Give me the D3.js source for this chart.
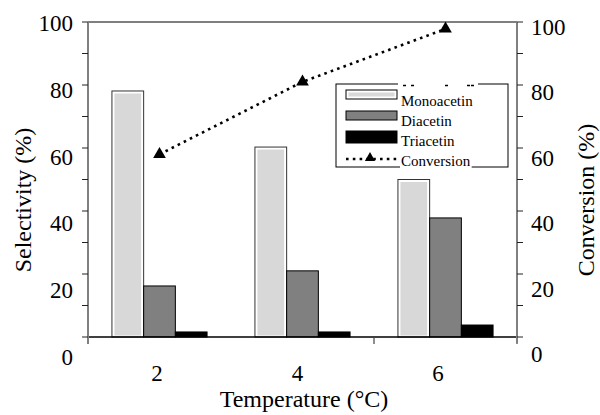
<!DOCTYPE html>
<html>
<head>
<meta charset="utf-8">
<script src="https://cdn.jsdelivr.net/npm/d3@7"></script>
<style>
  body { margin: 0; background: #fff; }
  svg { display: block; }
  text { font-family: "Liberation Serif", "Times New Roman", serif; fill: #000; }
</style>
</head>
<body>
<svg id="chart" width="600" height="415"></svg>
<script>
// ---- data ----
const temperatures = ["2", "4", "6"];
const seriesNames = ["Monoacetin", "Diacetin", "Triacetin"];
const monoacetin = [78.1, 60.3, 50.0];
const diacetin = [16.2, 21.0, 37.8];
const triacetin = [1.6, 1.6, 3.8];
const conversion = [58.0, 81.0, 97.8];
const yTicksMajor = [0, 20, 40, 60, 80, 100];

const seriesValues = [monoacetin, diacetin, triacetin];
const seriesFill = ["#d8d8d8", "#808080", "#000000"];

// ---- layout ----
const svg = d3.select("#chart");
const L = 88, R = 517, T = 22, B = 337;

const x0 = d3.scaleBand().domain(temperatures).range([L, R]).paddingInner(0).paddingOuter(0);
const x1 = d3.scaleBand().domain(seriesNames).range([0, x0.bandwidth()]).paddingInner(0).paddingOuter(0.755);
const y = d3.scaleLinear().domain([0, 100]).range([B, T]);
const yConv = d3.scaleLinear().domain([0, 100]).range([B, T]);
// tick-label placement (labels in the original drift slightly from the ticks)
const yLabL = d3.scaleLinear().domain([0, 100]).range([357, 23]);
const yLabR = d3.scaleLinear().domain([0, 100]).range([354, 27]);
const xLab = d3.scalePoint().domain(temperatures).range([157, 438]);

// ---- bars ----
const groups = svg.append("g").selectAll("g")
  .data(temperatures).join("g")
  .attr("transform", d => `translate(${x0(d)},0)`);

groups.each(function(t, ti) {
  const g = d3.select(this);
  seriesNames.forEach((s, si) => {
    const v = seriesValues[si][ti];
    const bx = x1(s), bw = x1.bandwidth(), by = y(v), bh = B - y(v);
    if (si === 0) {
      g.append("rect").attr("x", bx).attr("y", by).attr("width", bw).attr("height", bh)
        .attr("fill", "#ffffff").attr("stroke", "#333").attr("stroke-width", 1);
      g.append("rect").attr("x", bx + 2.5).attr("y", by + 2.5).attr("width", bw - 5).attr("height", Math.max(0, bh - 4))
        .attr("fill", seriesFill[si]);
    } else {
      g.append("rect").attr("x", bx).attr("y", by).attr("width", bw).attr("height", bh)
        .attr("fill", seriesFill[si]).attr("stroke", "#000").attr("stroke-width", 1);
    }
  });
});

// ---- axes ----
svg.append("line").attr("x1", L).attr("x2", R).attr("y1", T).attr("y2", T)
  .attr("stroke", "#000").attr("stroke-width", 1);
svg.append("line").attr("x1", L).attr("x2", R).attr("y1", B).attr("y2", B)
  .attr("stroke", "#000").attr("stroke-width", 1.5);
[x0("6"), R].forEach(xx => {
  svg.append("line").attr("x1", xx).attr("x2", xx).attr("y1", B).attr("y2", B + 7)
    .attr("stroke", "#444").attr("stroke-width", 1.2);
});
// left axis
svg.append("line").attr("x1", L).attr("x2", L).attr("y1", T).attr("y2", B + 7)
  .attr("stroke", "#808080").attr("stroke-width", 2);
svg.append("g").selectAll("line").data(y.ticks(10)).join("line")
  .attr("x1", L - 6).attr("x2", L).attr("y1", d => y(d)).attr("y2", d => y(d))
  .attr("stroke", "#222").attr("stroke-width", 1);
svg.append("g").selectAll("text").data(yTicksMajor).join("text")
  .attr("x", 73).attr("y", d => yLabL(d)).attr("dy", "0.35em")
  .attr("text-anchor", "end").attr("font-size", 23).text(d => d);
// right axis
svg.append("line").attr("x1", R).attr("x2", R).attr("y1", T).attr("y2", B + 6)
  .attr("stroke", "#808080").attr("stroke-width", 2);
svg.append("g").selectAll("line").data(yConv.ticks(10)).join("line")
  .attr("x1", R).attr("x2", R + 6).attr("y1", d => yConv(d)).attr("y2", d => yConv(d))
  .attr("stroke", "#222").attr("stroke-width", 1);
svg.append("g").selectAll("text").data(yTicksMajor).join("text")
  .attr("x", 531).attr("y", d => yLabR(d)).attr("dy", "0.35em")
  .attr("text-anchor", "start").attr("font-size", 23).text(d => d);
// x labels
svg.append("g").selectAll("text").data(temperatures).join("text")
  .attr("x", d => xLab(d)).attr("y", 373).attr("dy", "0.35em")
  .attr("text-anchor", "middle").attr("font-size", 23).text(d => d);

// titles
svg.append("text").attr("x", 304).attr("y", 407).attr("text-anchor", "middle")
  .attr("font-size", 24).text("Temperature (°C)");
svg.append("text").attr("transform", "translate(31,200) rotate(-90)").attr("text-anchor", "middle")
  .attr("font-size", 24).text("Selectivity (%)");
svg.append("text").attr("transform", "translate(594,200) rotate(-90)").attr("text-anchor", "middle")
  .attr("font-size", 24).text("Conversion (%)");

// ---- conversion line ----
const convPts = temperatures.map((t, i) => [x0(t) + x0.bandwidth() / 2, yConv(conversion[i])]);
svg.append("path").datum(convPts)
  .attr("d", d3.line())
  .attr("fill", "none").attr("stroke", "#000").attr("stroke-width", 2.6)
  .attr("stroke-dasharray", "2.6,4.2");
const tri = d3.symbol().type(d3.symbolTriangle).size(70);
svg.append("g").selectAll("path").data(convPts).join("path")
  .attr("d", tri).attr("transform", d => `translate(${d[0]},${d[1]})`).attr("fill", "#000");

// ---- legend ----
const lg = svg.append("g");
const lx = 336, ly = 84, lw = 172, lh = 83;
lg.append("rect").attr("x", lx).attr("y", ly).attr("width", lw).attr("height", lh)
  .attr("fill", "#fff").attr("stroke", "#000").attr("stroke-width", 1);
// gap in top border with small remnants
lg.append("rect").attr("x", 398).attr("y", ly - 1).attr("width", 80).attr("height", 3).attr("fill", "#fff");
[403, 411, 445, 467, 471].forEach(xx => {
  lg.append("line").attr("x1", xx).attr("x2", xx + 3).attr("y1", ly + 1.5).attr("y2", ly + 1.5)
    .attr("stroke", "#000").attr("stroke-width", 1.5);
});

const rowY = [90, 111, 131];
seriesNames.forEach((s, i) => {
  const sh = i === 2 ? 12 : 9;
  if (i === 0) {
    lg.append("rect").attr("x", 346).attr("y", rowY[i]).attr("width", 51).attr("height", sh)
      .attr("fill", "#fff").attr("stroke", "#000").attr("stroke-width", 1);
    lg.append("rect").attr("x", 348.5).attr("y", rowY[i] + 2.5).attr("width", 46).attr("height", sh - 5)
      .attr("fill", seriesFill[i]);
  } else {
    lg.append("rect").attr("x", 346).attr("y", rowY[i]).attr("width", 51).attr("height", sh)
      .attr("fill", seriesFill[i]).attr("stroke", "#000").attr("stroke-width", 1);
  }
});
const textY = [106, 126, 146, 166];
const legendLabels = seriesNames.concat(["Conversion"]);
legendLabels.forEach((s, i) => {
  const t = lg.append("text").attr("x", 401).attr("y", textY[i]).attr("font-size", 15).text(s);
  if (i === 3) {
    const bb = t.node().getBBox();
    lg.insert("rect", () => t.node()).attr("x", bb.x - 1).attr("y", bb.y + 4).attr("width", bb.width + 2).attr("height", bb.height)
      .attr("fill", "#fff");
  }
});
lg.append("line").attr("x1", 346).attr("x2", 397).attr("y1", 159).attr("y2", 159)
  .attr("stroke", "#000").attr("stroke-width", 2.6).attr("stroke-dasharray", "2.6,4.2");
lg.append("path").attr("d", d3.symbol().type(d3.symbolTriangle).size(45))
  .attr("transform", "translate(370,158)").attr("fill", "#000");
</script>
</body>
</html>
